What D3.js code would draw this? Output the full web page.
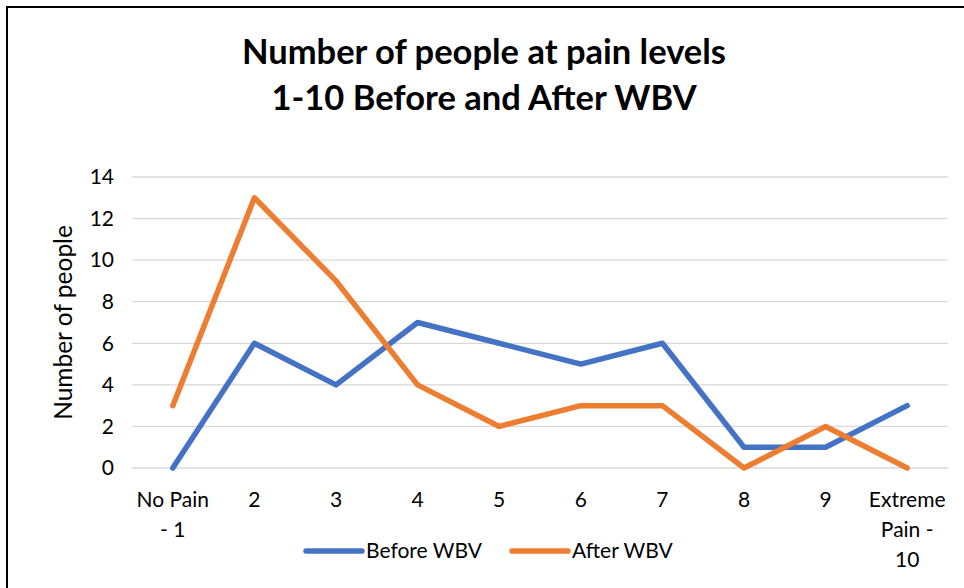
<!DOCTYPE html>
<meta charset="utf-8">
<style>
body { margin: 0; background: #fff; }
text { font-family: Lato, "Open Sans", sans-serif; fill: #000; }
.grid line { stroke: #d9d9d9; stroke-width: 1.3px; }
.series path { fill: none; stroke-width: 5.5px; stroke-linejoin: round; stroke-linecap: round; }
</style>

<svg width="964" height="588"></svg>
<script src="https://d3js.org/d3.v7.min.js"></script>

<script>

// chart data
let categories = ["No Pain - 1", "2", "3", "4", "5", "6", "7", "8", "9", "Extreme Pain - 10"];
let catLines = [["No Pain", "- 1"], ["2"], ["3"], ["4"], ["5"], ["6"], ["7"], ["8"], ["9"], ["Extreme", "Pain -", "10"]];
let before = [0, 6, 4, 7, 6, 5, 6, 1, 1, 3];
let after = [3, 13, 9, 4, 2, 3, 3, 0, 2, 0];
let yTicks = [0, 2, 4, 6, 8, 10, 12, 14];

let series = [
  {name: "Before WBV", values: before, color: "#4472C4"},
  {name: "After WBV", values: after, color: "#ED7D31"}
];

let svg = d3.select("svg");

// outer chart border (runs off the right and bottom edges)
svg.append("rect")
  .attr("x", 7).attr("y", 7)
  .attr("width", 970).attr("height", 600)
  .attr("fill", "none")
  .attr("stroke", "#000")
  .attr("stroke-width", 2);

let plotLeft = 132, plotRight = 948, plotTop = 177, plotBottom = 468;

let x = d3.scaleBand().domain(categories).range([plotLeft, plotRight]);
let y = d3.scaleLinear().domain([0, 14]).range([plotBottom, plotTop]);

// title
let title = svg.append("text")
  .attr("text-anchor", "middle")
  .style("font-weight", "bold")
  .style("font-size", "34.5px");
title.append("tspan").attr("x", 484).attr("y", 64).text("Number of people at pain levels");
title.append("tspan").attr("x", 484).attr("y", 110).text("1-10 Before and After WBV");

// gridlines
svg.append("g").attr("class", "grid")
  .selectAll("line")
  .data(yTicks)
  .enter().append("line")
  .attr("x1", plotLeft).attr("x2", plotRight)
  .attr("y1", d => y(d)).attr("y2", d => y(d));

// y tick labels
svg.append("g")
  .selectAll("text")
  .data(yTicks)
  .enter().append("text")
  .attr("x", plotLeft - 18)
  .attr("y", d => y(d))
  .attr("dy", "0.35em")
  .attr("text-anchor", "end")
  .style("font-size", "21px")
  .text(d => d);

// y axis title
svg.append("text")
  .attr("transform", "translate(72," + ((plotTop + plotBottom) / 2) + ") rotate(-90)")
  .attr("text-anchor", "middle")
  .style("font-size", "24.5px")
  .text("Number of people");

// x labels
let xl = svg.append("g")
  .selectAll("text")
  .data(categories)
  .enter().append("text")
  .attr("text-anchor", "middle")
  .style("font-size", "21px");
xl.selectAll("tspan")
  .data((d, i) => catLines[i].map(s => ({s: s, c: d})))
  .enter().append("tspan")
  .attr("x", d => x(d.c) + x.bandwidth() / 2)
  .attr("y", (d, j) => 507 + j * 30)
  .text(d => d.s);

// lines
let line = d3.line()
  .x((d, i) => x(categories[i]) + x.bandwidth() / 2)
  .y(d => y(d));

svg.append("g").attr("class", "series")
  .selectAll("path")
  .data(series)
  .enter().append("path")
  .attr("stroke", d => d.color)
  .attr("d", d => line(d.values));

// legend
let legendX = [306, 512];
let lg = svg.append("g")
  .selectAll("g")
  .data(series)
  .enter().append("g")
  .attr("transform", (d, i) => "translate(" + legendX[i] + ",551)");
lg.append("line")
  .attr("x1", 0).attr("x2", 56)
  .attr("stroke", d => d.color)
  .attr("stroke-width", 5.5)
  .attr("stroke-linecap", "round");
lg.append("text")
  .attr("x", 60)
  .attr("dy", "0.35em")
  .style("font-size", "21px")
  .text(d => d.name);

</script>
